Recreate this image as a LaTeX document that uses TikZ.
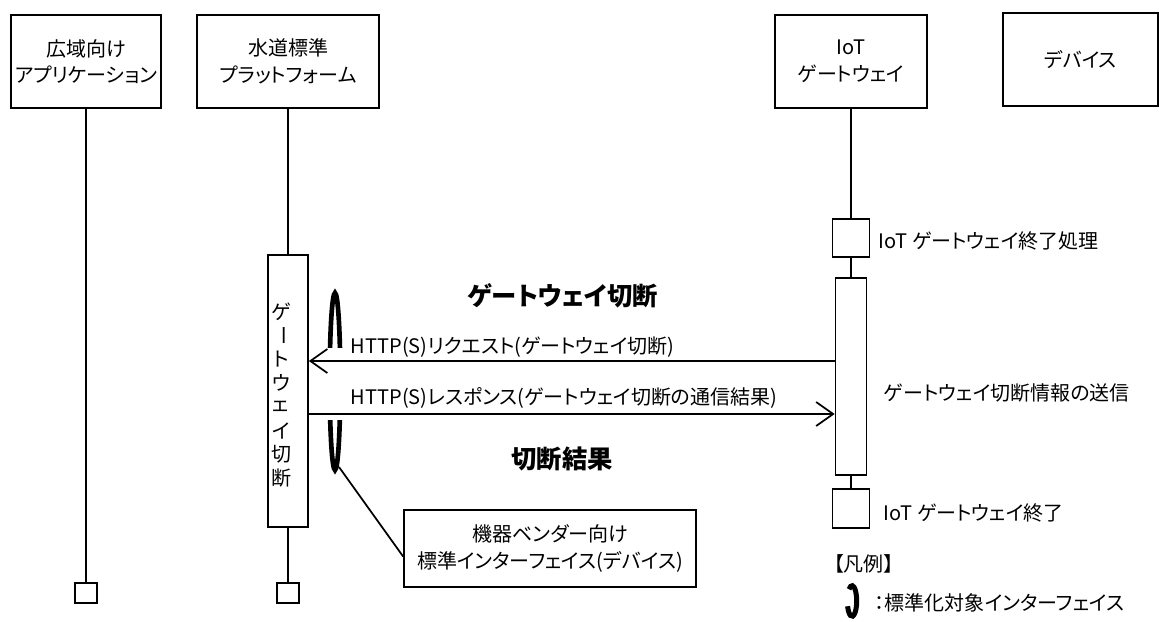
\documentclass[tikz,border=0pt]{standalone}
\usepackage{fontspec}
\setmainfont{Noto Sans CJK JP}[RawFeature={+palt}]
\usetikzlibrary{arrows.meta,shapes.geometric}
\begin{document}
\begin{tikzpicture}[x=0.75pt,y=-0.75pt,line width=1.3pt,
        every node/.style={font=\fontsize{15}{20}\selectfont},
        lane/.style={draw,align=center,minimum height=69.75pt,inner sep=0pt},
        sq/.style={draw,minimum width=16.5pt,minimum height=15pt,inner sep=0pt},
        actbar/.style={draw,fill=white,inner sep=0pt},
        lbl/.style={anchor=west,inner sep=0pt},
        ttl/.style={font=\fontsize{19}{22}\selectfont\bfseries},
        >={Straight Barb[length=12.75pt,width=18pt]}]
    \useasboundingbox (0,0) rectangle (1159,621);
    \node[lane,minimum width=112.5pt] at (86,61.5)(app){広域向け\\アプリケーション};
    \node[lane,minimum width=136.5pt] at (288,61.5)(wps){水道標準\\プラットフォーム};
    \node[lane,minimum width=114pt] at (851,61.5)(iot){IoT\\ゲートウェイ};
    \node[lane,minimum width=116.25pt] at (1080.5,59.5)(dev){デバイス};

    \node[sq] at (86,593)(appEnd){};
    \node[sq] at (288,593)(wpsEnd){};
    \node[actbar,minimum width=30pt,minimum height=204pt] at (288,391)(wpsAct){};
    \foreach \c [count=\i] in {ゲ,{\rotatebox{-90}{ー}},ト,ウ,ェ,イ,切,断}{
        \node[inner sep=0pt] at (281,312+23.7*\i-23.7)(vt\i){\c};
    }
    \draw (app) -- (appEnd);
    \draw (wps) -- (wpsAct);
    \draw (wpsAct) -- (wpsEnd);

    \node[actbar,minimum width=27.75pt,minimum height=28.5pt] at (851,238)(iotProc){};
    \node[actbar,minimum width=23.25pt,minimum height=147.75pt] at (851,376.5)(iotAct){};
    \node[actbar,minimum width=27.75pt,minimum height=29.25pt] at (851,508.5)(iotEnd){};
    \draw (iot) -- (iotProc);
    \draw (iotProc) -- (iotAct);
    \draw (iotAct) -- (iotEnd);
    \node[lbl] at (878,241)(procLbl){IoT ゲートウェイ終了処理};
    \node[lbl] at (883,393)(sendLbl){ゲートウェイ切断情報の送信};
    \node[lbl] at (883,513)(endLbl){IoT ゲートウェイ終了};

    \node[ellipse,draw,line width=3.5pt,minimum width=8pt,minimum height=132.75pt,inner sep=0pt] at (335,381.5)(ifc){};
    \fill[white] (325,348) rectangle (346,420);

    \coordinate (req) at (600,361);
    \coordinate (res) at (600,414);
    \path[draw,->] (req -| iotAct.west) -- (req -| wpsAct.east);
    \path[draw,->] (res -| wpsAct.east) -- (res -| iotAct.west);
    \node[lbl] at (350,347)(reqLbl){HTTP(S)リクエスト(ゲートウェイ切断)};
    \node[lbl] at (350,398)(resLbl){HTTP(S)レスポンス(ゲートウェイ切断の通信結果)};
    \node[ttl] at (563,296)(reqTtl){ゲートウェイ切断};
    \node[ttl] at (562,459)(resTtl){切断結果};

    \node[draw,align=center,minimum width=219pt,minimum height=57.75pt,inner sep=0pt] at (550,548.5)(note){機器ベンダー向け\\標準インターフェイス(デバイス)};
    \draw ([xshift=3pt,yshift=4pt]ifc.south) -- ([yshift=-6pt]note.west);

    %legend
    \node[lbl] at (833,564)(legTtl){【凡例】};
    \coordinate (legC) at (852,601);
    \draw[line width=3.75pt] ([shift={(130:3.5pt and 11.5pt)}]legC) arc[start angle=130,end angle=-160,x radius=3.5pt,y radius=11.5pt];
    \node[lbl] at (874,603)(legLbl){：標準化対象インターフェイス};
\end{tikzpicture}
\end{document}
